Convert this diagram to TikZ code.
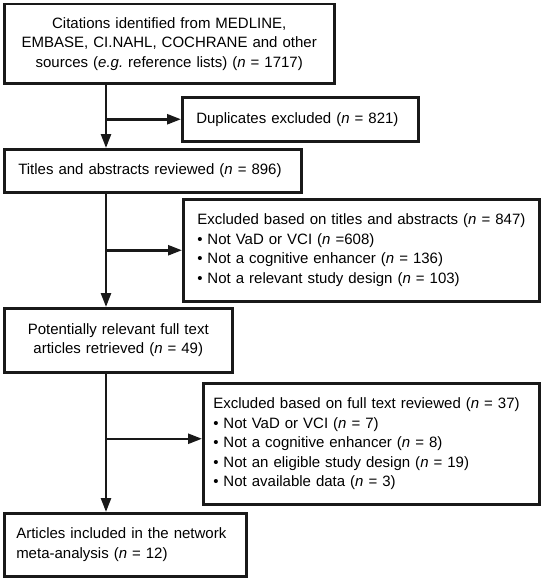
\documentclass[tikz,border=0pt]{standalone}
\usepackage{fontspec}
\setmainfont{Liberation Sans}
\usetikzlibrary{arrows.meta}
\tikzset{flowbox/.style={draw=black!90, line width=2.5pt, inner xsep=10pt, inner ysep=0pt, anchor=north west, font=\fontsize{15}{19.5}\selectfont}}
\tikzset{leftbox/.style={flowbox, align=left}}
\tikzset{midbox/.style={flowbox, align=center}}
\tikzset{flowarr/.style={draw=black!90, line width=2.5pt, -{Triangle[length=14pt,width=10pt]}}}
\newcommand{\nn}{\textit{n}}

\begin{document}
\begin{tikzpicture}[x=1pt,y=-1pt]
      \useasboundingbox (0,0) rectangle (541,578);
      \pgfmathsetmacro{\spinex}{106}
      \coordinate (spine) at (\spinex,0);

      \node[midbox, text width=310pt, minimum height=79pt] at (3,3) (cit) {Citations identified from MEDLINE,\\ EMBASE, CI.NAHL, COCHRANE and other\\ sources (\textit{e.g.}\ reference lists) (\nn{} = 1717)};
      \node[leftbox, text width=216pt, minimum height=44pt] at (181,96) (dup) {\hspace*{4pt}Duplicates excluded (\nn{} = 821)};
      \node[leftbox, text width=277pt, minimum height=43pt] at (3,148) (rev) {\hspace*{4pt}Titles and abstracts reviewed (\nn{} = 896)};
      \node[leftbox, text width=336pt, minimum height=102pt] at (182,198) (exa) {\hspace*{4pt}Excluded based on titles and abstracts (\nn{} = 847)\\ \hspace*{4pt}\textbullet{} Not VaD or VCI (\nn{} =608)\\ \hspace*{4pt}\textbullet{} Not a cognitive enhancer (\nn{} = 136)\\ \hspace*{4pt}\textbullet{} Not a relevant study design (\nn{} = 103)};
      \node[midbox, text width=208pt, minimum height=64pt] at (3,307) (full) {Potentially relevant full text\\ articles retrieved (\nn{} = 49)};
      \node[leftbox, text width=316pt, minimum height=121pt] at (202,382) (exb) {Excluded based on full text reviewed (\nn{} = 37)\\ \textbullet{} Not VaD or VCI (\nn{} = 7)\\ \textbullet{} Not a cognitive enhancer (\nn{} = 8)\\ \textbullet{} Not an eligible study design (\nn{} = 19)\\ \textbullet{} Not available data (\nn{} = 3)};
      \node[leftbox, text width=222pt, minimum height=63pt] at (3,512) (inc) {\hspace*{2pt}Articles included in the network\\ \hspace*{2pt}meta-analysis (\nn{} = 12)};

      % main line
      \draw[flowarr] (cit.south -| spine) -- (rev.north -| spine);
      \draw[flowarr] (rev.south -| spine) -- (full.north -| spine);
      \draw[flowarr] (full.south -| spine) -- (inc.north -| spine);

      % excluded branches
      \draw[flowarr] (dup.west -| spine) -- (dup.west);
      \draw[flowarr] (exa.west -| spine) -- (exa.west);
      \draw[flowarr] ([yshift=5pt]exb.west -| spine) -- ([yshift=5pt]exb.west);
\end{tikzpicture}
\end{document}
